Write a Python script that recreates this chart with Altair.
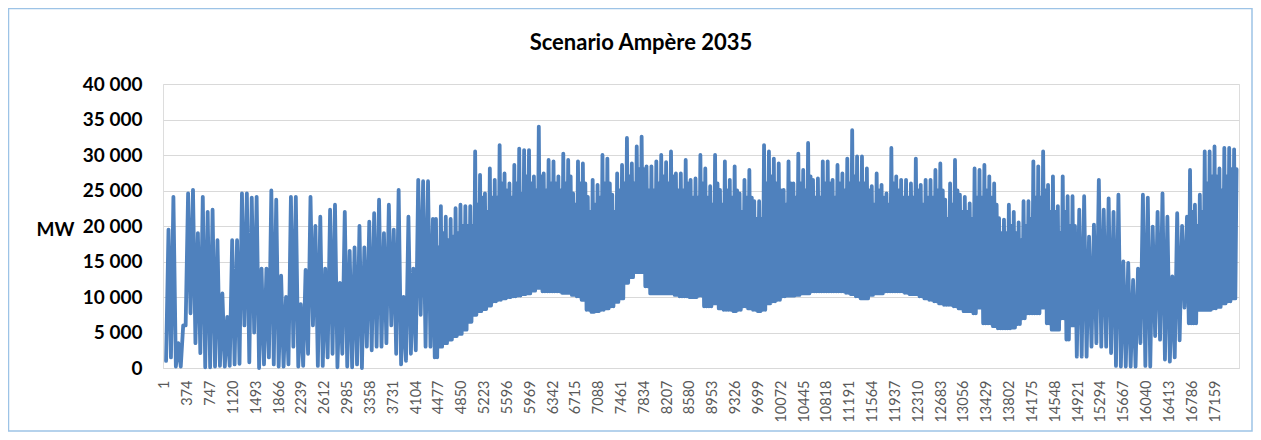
import altair as alt
import pandas as pd

# Hourly output (MW) per 80-hour block:
# trough = lowest value, peak = highest spike, shoulder = top of the dense
# daily band (None where the block shows a single swing only)
BLOCK_HOURS = 80
peak_mw = [
    19500, 24100, 3500, 6000, 24600, 25100, 19000, 24100, 22000, 22300,
    18000, 10500, 7200, 18000, 18000, 24600, 24600, 24000, 24100, 14000,
    14000, 25000, 23700, 13000, 10000, 24100, 24100, 9000, 13800, 24100,
    20000, 21300, 14000, 22300, 23000, 12000, 22000, 16500, 17000, 20000,
    17000, 20600, 21800, 23700, 19000, 23000, 19500, 25100, 10000, 21300,
    14000, 26500, 26300, 26300, 21000, 21000, 22800, 21300, 21000, 22500,
    23000, 22800, 22800, 30500, 27200, 24600, 28100, 26500, 31400, 27400,
    26000, 28600, 30900, 30700, 30700, 27000, 34000, 27400, 29300, 29100,
    27000, 30200, 29300, 24600, 29100, 28800, 24100, 26500, 25800, 30000,
    29500, 24400, 27400, 28600, 32400, 28800, 31200, 32600, 28400, 28400,
    29100, 30000, 29000, 30500, 27400, 27400, 29300, 26500, 26700, 30000,
    28100, 25600, 30000, 25100, 29100, 26500, 28400, 24600, 26500, 27900,
    23500, 23500, 31400, 30500, 29500, 28800, 25100, 29100, 26000, 30200,
    27900, 31700, 26500, 26700, 29100, 29100, 26500, 28600, 27400, 29500,
    33500, 29800, 29800, 28100, 25600, 27400, 25800, 24600, 31000, 27000,
    26500, 26500, 26000, 29500, 25800, 26500, 26500, 27900, 28800, 23700,
    26000, 29300, 24400, 24100, 23200, 28100, 27900, 28600, 27000, 26000,
    21100, 20900, 23000, 22000, 20500, 23500, 23500, 29100, 28400, 30500,
    25800, 27000, 22800, 27000, 24200, 24200, 22300, 24200, 18500, 20200,
    26500, 22300, 23900, 22000, 24400, 15000, 14800, 12400, 14000, 24400,
    24000, 19900, 22000, 24600, 21300, 12900, 21800, 20000, 21300, 27900,
    23000, 24400, 30500, 30500, 31200, 28100, 31000, 31000, 30800,
]
trough_mw = [
    1000, 1500, 200, 200, 6000, 7700, 3500, 2100, 100, 100,
    200, 300, 200, 300, 500, 600, 6000, 800, 5000, 0,
    500, 1500, 500, 200, 200, 500, 3000, 200, 300, 2000,
    6000, 300, 300, 1500, 2000, 100, 2000, 200, 100, 500,
    0, 3000, 2500, 3000, 3000, 3500, 6000, 2000, 500, 1000,
    2000, 2500, 7500, 3000, 3000, 1500, 3000, 3500, 4000, 4500,
    4800, 5400, 6500, 7500, 8000, 8300, 8800, 9400, 9600, 9800,
    10000, 10100, 10200, 10400, 10500, 10900, 11300, 10800, 10800, 10800,
    10800, 10600, 10600, 10300, 10100, 9600, 8200, 7900, 8000, 8200,
    8400, 8700, 9300, 9800, 12000, 12800, 13500, 13500, 11500, 10500,
    10500, 10500, 10500, 10500, 10300, 10100, 10100, 10000, 10000, 10200,
    8700, 8700, 9100, 8400, 8200, 8200, 8000, 8200, 8700, 8400,
    8200, 8000, 8200, 9100, 9400, 9600, 10100, 10200, 10200, 10300,
    10500, 10500, 10800, 10800, 10800, 10800, 10800, 10800, 10800, 10600,
    10400, 10100, 9800, 9800, 10300, 10500, 10500, 10800, 10800, 10800,
    10800, 10600, 10400, 10400, 10100, 9800, 9600, 9400, 9100, 8900,
    8900, 8700, 8400, 8000, 8000, 7700, 8500, 6300, 6300, 5900,
    5600, 5600, 5600, 5700, 6200, 7000, 7700, 7700, 7700, 8500,
    6300, 5400, 5400, 7000, 4000, 6000, 1600, 1600, 1600, 3000,
    3500, 3000, 3000, 2100, 300, 200, 200, 200, 200, 3500,
    300, 200, 4500, 4000, 1200, 900, 1500, 3900, 8500, 6300,
    6300, 8200, 8200, 8200, 8400, 8600, 9100, 9400, 9800,
]
N = None
shoulder_mw = [
    N, N, N, N, N, N, N, N, N, N,
    N, N, N, N, N, N, N, N, N, N,
    N, N, N, N, N, N, N, N, N, N,
    N, N, N, N, N, N, N, N, N, N,
    N, N, N, N, N, N, N, N, N, N,
    N, N, N, N, N, 17000, 19000, 18000, 18500, 19000,
    20000, 20000, 20000, 23000, 24000, 22000, 24000, 24000, 26000, 25000,
    24000, 26000, 24500, 27000, 26000, 25000, 27000, 25000, 26000, 26000,
    25000, 26000, 27000, 23000, 26000, 26000, 22000, 23000, 24000, 26000,
    26000, 22000, 25000, 26000, 27000, 26000, 28000, 28000, 25000, 25000,
    26000, 27000, 26000, 27000, 25000, 25000, 26000, 24000, 24000, 26000,
    24000, 23000, 26000, 23000, 25000, 24000, 25000, 22000, 24000, 24000,
    21000, 21000, 26000, 27000, 26000, 25000, 23000, 26000, 24000, 26000,
    25000, 27000, 24000, 24000, 26000, 26000, 24000, 26000, 25000, 26000,
    27000, 26000, 26000, 25000, 23000, 25000, 24000, 23000, 26000, 25000,
    24000, 24000, 24000, 25000, 23000, 24000, 24000, 25000, 25000, 21000,
    23000, 25000, 22000, 22000, 21000, 24000, 24000, 25000, 24000, 23000,
    19000, 19000, 20000, 19000, 18000, 20000, 21000, 24000, 24000, 25000,
    22000, 22000, 19000, 22000, 20000, 20000, N, N, N, N,
    N, N, N, N, N, N, N, N, N, N,
    N, N, N, N, N, N, N, N, N, 22000,
    20000, 22000, 26000, 27000, 27000, 25000, 27000, 28000, 28000,
]

# x tick labels (hour index)
tick_hours = [
    1, 374, 747, 1120, 1493, 1866, 2239, 2612, 2985, 3358, 3731, 4104,
    4477, 4850, 5223, 5596, 5969, 6342, 6715, 7088, 7461, 7834, 8207,
    8580, 8953, 9326, 9699, 10072, 10445, 10818, 11191, 11564, 11937,
    12310, 12683, 13056, 13429, 13802, 14175, 14548, 14921, 15294,
    15667, 16040, 16413, 16786, 17159,
]
y_ticks = [0, 5000, 10000, 15000, 20000, 25000, 30000, 35000, 40000]
title_text = "Scenario Ampère 2035"

hours, mw = [], []
for i, (lo, hi, sh) in enumerate(zip(trough_mw, peak_mw, shoulder_mw)):
    start = i * BLOCK_HOURS
    if sh is None:
        hours += [start + 20, start + 60]
        mw += [lo, hi]
    else:
        hours += [start + 10, start + 30, start + 50, start + 70]
        mw += [lo, hi, lo, sh]
df = pd.DataFrame({"hour": hours, "mw": mw})

FONT = "Lato"

line = alt.Chart(df).mark_line(
    color="#4F81BD", strokeWidth=3.8, strokeJoin="round", strokeCap="round"
).encode(
    x=alt.X(
        "hour:Q",
        scale=alt.Scale(domain=[-30, 17550], nice=False, zero=False),
        axis=alt.Axis(
            values=tick_hours, format="d", labelAngle=-90, labelFont=FONT,
            labelFontSize=14.5, labelColor="#595959", labelPadding=12,
            ticks=False, grid=False, domain=True, domainColor="#D9D9D9",
            labelOverlap=False, labelFlush=False, labelBound=False, title=None,
        ),
    ),
    y=alt.Y(
        "mw:Q",
        scale=alt.Scale(domain=[0, 40000], nice=False),
        axis=alt.Axis(
            values=y_ticks, labelFont=FONT, labelFontSize=19, labelFontWeight="bold",
            labelColor="#000000", labelPadding=21, ticks=False, domain=False,
            grid=True, gridColor="#D9D9D9", gridWidth=1,
            labelExpr="replace(format(datum.value, ',d'), ',', ' ')",
            title="MW", titleAngle=0, titleFont=FONT, titleFontSize=19,
            titleFontWeight="bold", titleColor="#000000", titleX=-108, titleY=145,
            titleAlign="center", titleBaseline="middle",
        ),
    ),
)

frame_df = pd.DataFrame({"k": [0]})
border = alt.Chart(frame_df).mark_rect(
    fillOpacity=0, stroke="#9DC3E6", strokeWidth=1.5
).encode(
    x=alt.value(-154.5), x2=alt.value(1089), y=alt.value(-75.5), y2=alt.value(347)
)

title = alt.Chart(frame_df).mark_text(
    text=title_text, font=FONT, fontSize=22, fontWeight="bold", color="#000000",
    align="center", baseline="middle",
).encode(x=alt.value(478), y=alt.value(-41))

chart = alt.layer(border, line, title).properties(
    width=1076,
    height=284,
    padding={"left": 155, "top": 76, "right": 14, "bottom": 64},
    autosize=alt.AutoSizeParams(type="none"),
).configure_view(stroke=None).configure(background="white")

chart.save("out.html", embed_options={"renderer": "svg", "actions": False})
